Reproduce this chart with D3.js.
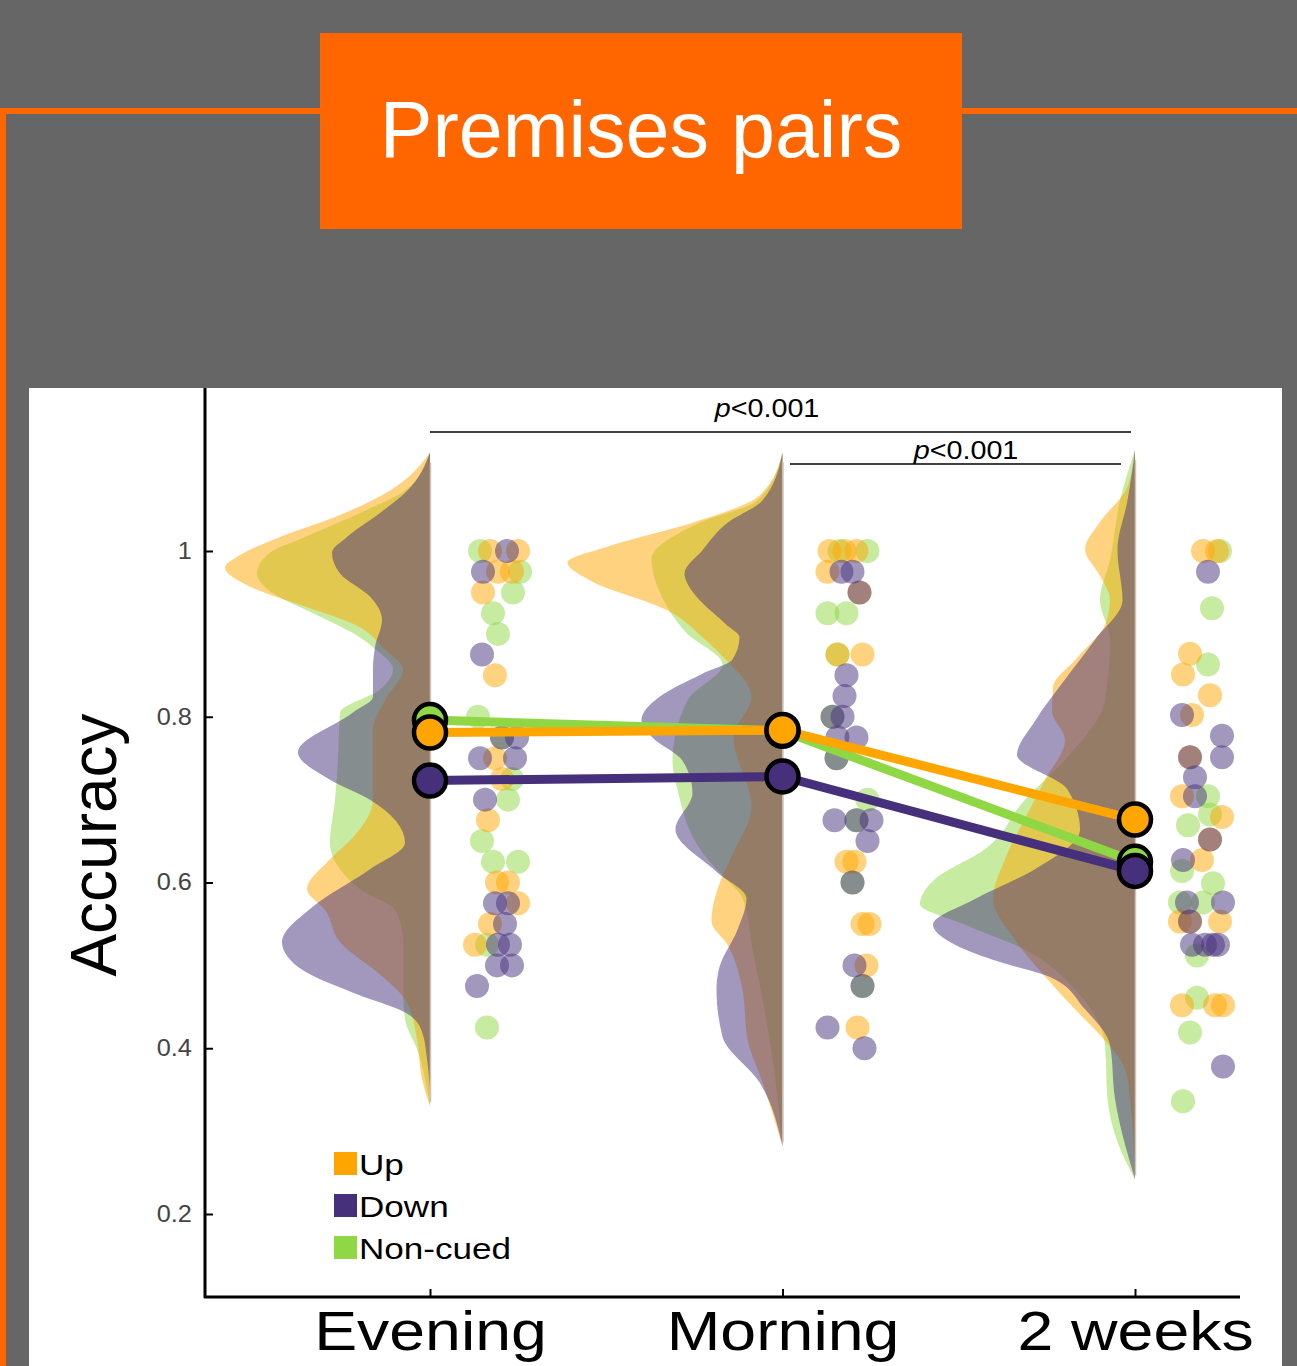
<!DOCTYPE html>
<html>
<head>
<meta charset="utf-8">
<script src="https://cdn.jsdelivr.net/npm/d3@7"></script>
<style>
  html, body { margin: 0; padding: 0; background: #666666; }
  svg { display: block; }
</style>
</head>
<body>
<svg id="chart" width="1297" height="1366"></svg>
<script>
// ---------- data ----------
const sessions = ["Evening", "Morning", "2 weeks"];
const groups = ["Up", "Down", "Non-cued"];
const groupColors = ["#FFA500", "#46307C", "#8FD744"];
const yTicks = [0.2, 0.4, 0.6, 0.8, 1];

// group means per session
const meanUp = [0.781, 0.784, 0.676];
const meanDown = [0.723, 0.728, 0.614];
const meanNonCued = [0.796, 0.783, 0.625];

// significance brackets: [fromSession, toSession, label]
const comparisons = [[0, 2, "p<0.001"], [1, 2, "p<0.001"]];

// smoothed densities per session: [accuracy, density]
const densityUp = [
  [[1.119,0],[1.073,0.80],[1.041,1.90],[1.017,3.00],[0.993,3.86],[0.980,4.10],[0.957,3.60],[0.935,2.60],[0.911,1.50],[0.881,0.90],[0.857,0.54],[0.820,0.90],[0.784,1.14],[0.700,1.14],[0.657,1.50],[0.628,2.00],[0.592,2.46],[0.567,2.10],[0.528,1.80],[0.489,1.00],[0.459,0.50],[0.411,0.26],[0.363,0.16],[0.330,0]],
  [[1.119,0],[1.067,0.46],[1.034,1.80],[1.006,3.46],[0.986,4.30],[0.963,3.80],[0.929,2.32],[0.896,1.60],[0.873,1.20],[0.824,0.62],[0.775,0.98],[0.692,0.62],[0.636,0.98],[0.608,1.20],[0.553,1.42],[0.525,1.10],[0.471,0.80],[0.411,0.70],[0.359,0.40],[0.282,0]],
  [[1.122,0],[1.076,0.16],[1.035,0.70],[1.002,1.00],[0.970,0.70],[0.941,0.50],[0.911,0.60],[0.871,1.16],[0.836,1.64],[0.807,1.66],[0.772,1.40],[0.724,1.80],[0.682,2.16],[0.628,2.60],[0.580,2.84],[0.531,2.40],[0.480,1.70],[0.447,1.20],[0.416,0.70],[0.375,0.20],[0.339,0.10],[0.242,0]]
];
const densityDown = [
  [[1.119,0],[1.073,0.45],[1.046,1.00],[1.017,1.66],[0.998,1.96],[0.973,1.80],[0.945,1.20],[0.917,0.96],[0.884,1.10],[0.857,1.14],[0.824,1.14],[0.805,1.54],[0.757,2.64],[0.724,2.00],[0.700,1.20],[0.648,0.50],[0.616,1.20],[0.571,2.34],[0.528,2.96],[0.494,2.54],[0.467,1.54],[0.442,0.46],[0.420,0.16],[0.387,0.06],[0.351,0]],
  [[1.119,0],[1.061,0.40],[1.034,1.10],[1.001,1.60],[0.973,1.96],[0.951,1.80],[0.912,1.14],[0.896,0.86],[0.869,1.00],[0.852,1.60],[0.824,2.46],[0.796,2.82],[0.775,2.60],[0.747,2.00],[0.708,1.80],[0.664,2.14],[0.613,1.32],[0.581,0.72],[0.543,0.90],[0.498,1.26],[0.471,1.32],[0.414,1.20],[0.359,0.46],[0.282,0]],
  [[1.122,0],[1.061,0.15],[1.001,0.35],[0.941,0.25],[0.893,0.80],[0.845,1.40],[0.795,2.00],[0.754,2.36],[0.713,1.36],[0.664,1.10],[0.616,2.00],[0.580,3.20],[0.549,4.04],[0.525,3.60],[0.504,2.70],[0.486,1.70],[0.447,1.00],[0.404,0.50],[0.339,0.40],[0.242,0]]
];
const densityNonCued = [
  [[1.119,0],[1.073,0.50],[1.046,1.40],[1.017,2.50],[0.998,3.20],[0.973,3.46],[0.949,3.14],[0.925,2.34],[0.901,1.54],[0.884,1.14],[0.857,0.74],[0.833,1.00],[0.805,1.80],[0.748,1.84],[0.700,1.90],[0.648,2.00],[0.616,1.80],[0.592,1.40],[0.567,0.70],[0.531,0.54],[0.471,0.54],[0.435,0.50],[0.399,0.26],[0.330,0]],
  [[1.119,0],[1.061,0.50],[1.034,1.66],[0.990,2.62],[0.951,2.46],[0.901,1.92],[0.863,1.20],[0.820,1.90],[0.747,2.20],[0.712,2.10],[0.636,1.60],[0.608,1.20],[0.581,0.80],[0.519,0.60],[0.459,0.40],[0.387,0.20],[0.282,0]],
  [[1.122,0],[1.061,0.30],[0.989,0.50],[0.941,0.70],[0.893,0.50],[0.820,0.60],[0.748,1.40],[0.700,2.20],[0.640,3.00],[0.604,4.00],[0.574,4.30],[0.549,3.40],[0.519,2.20],[0.471,1.20],[0.404,0.60],[0.339,0.55],[0.287,0.35],[0.242,0]]
];

// individual participants: [session, accuracy, jitter]
const pointsUp = [
  [0,1.0,-0.2],[0,1.0,0.92],[0,0.975,0.12],[0,0.975,0.68],[0,0.95,-0.48],[0,0.85,0],[0,0.75,0],[0,0.725,0.28],
  [0,0.675,-0.28],[0,0.6,0.08],[0,0.6,0.52],[0,0.575,0.92],[0,0.55,-0.2],[0,0.525,-0.8],
  [1,1.0,-0.72],[1,1.0,-0.12],[1,1.0,0.36],[1,0.975,-0.8],[1,0.95,0.48],[1,0.875,-0.4],[1,0.875,0.6],
  [1,0.625,-0.04],[1,0.625,0.28],[1,0.55,0.6],[1,0.55,0.88],[1,0.5,0.76],[1,0.425,0.4],
  [2,1.0,0.12],[2,1.0,0.68],[2,0.876,-0.4],[2,0.851,-0.68],[2,0.826,0.4],[2,0.802,-0.32],[2,0.751,-0.4],
  [2,0.704,-0.72],[2,0.679,0.88],[2,0.652,0.4],[2,0.627,0.08],[2,0.553,-0.8],[2,0.553,-0.4],[2,0.553,0.8],
  [2,0.452,-0.72],[2,0.452,0.6],[2,0.452,0.92]
];
const pointsDown = [
  [0,1.0,0.48],[0,0.975,-0.48],[0,0.875,-0.52],[0,0.775,0.28],[0,0.775,0.88],[0,0.75,-0.6],[0,0.75,0.8],
  [0,0.7,-0.4],[0,0.575,0],[0,0.575,0.52],[0,0.55,0.4],[0,0.525,0.12],[0,0.525,0.6],[0,0.5,0.08],[0,0.5,0.68],[0,0.475,-0.72],
  [1,0.975,-0.24],[1,0.975,0.2],[1,0.95,0.48],[1,0.85,-0.04],[1,0.825,-0.12],[1,0.8,-0.6],[1,0.8,-0.2],
  [1,0.775,-0.4],[1,0.775,0.36],[1,0.75,-0.44],[1,0.675,-0.52],[1,0.675,0.36],[1,0.675,0.96],[1,0.65,0.8],
  [1,0.6,0.2],[1,0.5,0.28],[1,0.475,0.6],[1,0.425,-0.8],[1,0.4,0.68],
  [2,0.975,0.32],[2,0.802,-0.72],[2,0.777,0.88],[2,0.751,-0.4],[2,0.751,0.88],[2,0.727,-0.2],[2,0.704,-0.2],
  [2,0.652,0.4],[2,0.627,-0.68],[2,0.576,-0.52],[2,0.576,0.92],[2,0.553,-0.4],[2,0.525,-0.32],[2,0.525,0.2],
  [2,0.525,0.52],[2,0.525,0.72],[2,0.378,0.92]
];
const pointsNonCued = [
  [0,1.0,-0.6],[0,0.975,1.0],[0,0.95,0.72],[0,0.925,-0.08],[0,0.9,0.12],[0,0.8,-0.68],[0,0.775,0.28],
  [0,0.725,0.68],[0,0.7,0.52],[0,0.65,-0.52],[0,0.625,-0.08],[0,0.625,0.92],[0,0.525,-0.32],[0,0.425,-0.32],
  [1,1.0,0.8],[1,1.0,-0.32],[1,0.925,-0.8],[1,0.925,-0.04],[1,0.875,-0.4],[1,0.8,-0.6],[1,0.75,-0.44],
  [1,0.7,0.8],[1,0.675,0.36],[1,0.6,0.2],[1,0.475,0.6],
  [2,1.0,0.8],[2,0.931,0.48],[2,0.863,0.32],[2,0.704,0.32],[2,0.682,0.4],[2,0.669,-0.48],[2,0.614,-0.72],
  [2,0.599,0.52],[2,0.576,0.12],[2,0.576,-0.8],[2,0.512,-0.12],[2,0.461,-0.12],[2,0.419,-0.4],[2,0.336,-0.68]
];

// ---------- layout ----------
const svg = d3.select("#chart");
const FONT = "'Liberation Sans', Arial, Helvetica, sans-serif";

// slide frame
svg.append("rect").attr("width", 1297).attr("height", 1366).attr("fill", "#666666");
svg.append("rect").attr("x", 0).attr("y", 108).attr("width", 1297).attr("height", 6).attr("fill", "#FF6600");
svg.append("rect").attr("x", 0).attr("y", 108).attr("width", 6).attr("height", 1258).attr("fill", "#FF6600");
svg.append("rect").attr("x", 320).attr("y", 33).attr("width", 642).attr("height", 196).attr("fill", "#FF6600");
svg.append("text").attr("x", 641).attr("y", 157).attr("text-anchor", "middle")
  .attr("font-family", FONT).attr("font-size", 79).attr("fill", "#ffffff")
  .text("Premises pairs");

// white figure panel
svg.append("rect").attr("x", 29).attr("y", 388).attr("width", 1253).attr("height", 978).attr("fill", "#ffffff");

const plot = svg.append("g");

const x = d3.scalePoint().domain(sessions).range([430, 1135]);
const y = d3.scaleLinear().domain([0.2, 1]).range([1214, 551]);
const dens = d3.scaleLinear().domain([0, 1]).range([0, 50]);
const jitter = d3.scaleLinear().domain([-1, 1]).range([-25, 25]);
const dotOffset = 65;

const densities = [densityUp, densityDown, densityNonCued];
const points = [pointsUp, pointsDown, pointsNonCued];
const means = [meanUp, meanDown, meanNonCued];
const drawOrder = [2, 0, 1]; // Non-cued, Up, Down

// half violins, flat side on each session position
sessions.forEach((s, si) => {
  const cx = x(s);
  const area = d3.area()
    .y(d => y(d[0]))
    .x0(cx)
    .x1(d => cx - dens(d[1]))
    .curve(d3.curveMonotoneY);
  drawOrder.forEach(gi => {
    plot.append("path")
      .datum(densities[gi][si])
      .attr("d", area)
      .attr("fill", groupColors[gi])
      .attr("fill-opacity", 0.5);
  });
  // faint seam along the flat edge
  const ext = d3.extent(densities.flatMap(g => g[si].map(d => d[0])));
  plot.append("line")
    .attr("x1", cx + 0.5).attr("x2", cx + 0.5)
    .attr("y1", y(ext[1]) + 10).attr("y2", y(ext[0]) - 4)
    .attr("stroke", "#cdc3b8").attr("stroke-width", 1.5);
});

// participant dots
drawOrder.forEach(gi => {
  plot.append("g").selectAll("circle")
    .data(points[gi])
    .join("circle")
    .attr("cx", d => x(sessions[d[0]]) + dotOffset + jitter(d[2]))
    .attr("cy", d => y(d[1]))
    .attr("r", 12)
    .attr("fill", groupColors[gi])
    .attr("fill-opacity", 0.5);
});

// axes
const yAxis = d3.axisLeft(y).tickValues(yTicks)
  .tickSizeInner(-8).tickSizeOuter(0).tickPadding(12)
  .tickFormat(d => d === 1 ? "1" : d3.format(".1f")(d));
const gy = plot.append("g").attr("transform", "translate(205,0)").call(yAxis);
gy.select(".domain").remove();
gy.selectAll(".tick line").attr("stroke", "#000").attr("stroke-width", 2);
gy.selectAll(".tick text").attr("font-family", FONT).attr("font-size", 23)
  .attr("fill", "#444").attr("transform", "scale(1.1,1)");

const xAxis = d3.axisBottom(x).tickSizeInner(-8).tickSizeOuter(0).tickPadding(13);
const gx = plot.append("g").attr("transform", "translate(0,1297)").call(xAxis);
gx.select(".domain").remove();
gx.selectAll(".tick line").attr("stroke", "#000").attr("stroke-width", 2);
gx.selectAll(".tick text").attr("font-family", FONT).attr("font-size", 56)
  .attr("fill", "#000").attr("transform", "scale(1.15,1)");

plot.append("line").attr("x1", 205).attr("x2", 205).attr("y1", 388).attr("y2", 1298)
  .attr("stroke", "#000").attr("stroke-width", 3);
plot.append("line").attr("x1", 204).attr("x2", 1240).attr("y1", 1297).attr("y2", 1297)
  .attr("stroke", "#000").attr("stroke-width", 3);

// y axis title
plot.append("text")
  .attr("transform", "translate(116,845) rotate(-90)")
  .attr("text-anchor", "middle")
  .attr("font-family", FONT).attr("font-size", 64).attr("fill", "#000")
  .text("Accuracy");

// mean trajectories
const meanLine = d3.line().x((d, i) => x(sessions[i])).y(d => y(d));
drawOrder.forEach(gi => {
  plot.append("path").datum(means[gi]).attr("d", meanLine)
    .attr("fill", "none").attr("stroke", groupColors[gi]).attr("stroke-width", 9);
});
drawOrder.forEach(gi => {
  plot.append("g").selectAll("circle")
    .data(means[gi])
    .join("circle")
    .attr("cx", (d, i) => x(sessions[i]))
    .attr("cy", d => y(d))
    .attr("r", 16)
    .attr("fill", groupColors[gi])
    .attr("stroke", "#000")
    .attr("stroke-width", 4.5);
});

// significance brackets
const bracketY = [432, 464];
const bracketEnd = [1131, 1121];
const bracketStart = [430, 790];
comparisons.forEach((c, i) => {
  plot.append("line")
    .attr("x1", bracketStart[i]).attr("x2", bracketEnd[i])
    .attr("y1", bracketY[i]).attr("y2", bracketY[i])
    .attr("stroke", "#000").attr("stroke-width", 1.5);
  const cx = i === 0 ? 767 : 966;
  const t = plot.append("text")
    .attr("transform", `translate(${cx},${bracketY[i] - (i === 0 ? 15 : 5)}) scale(1.15,1)`)
    .attr("text-anchor", "middle")
    .attr("font-family", FONT).attr("font-size", 25).attr("fill", "#000");
  t.append("tspan").attr("font-style", "italic").text(c[2].slice(0, 1));
  t.append("tspan").text(c[2].slice(1));
});

// legend
const legend = plot.append("g").attr("transform", "translate(334,1152)");
groups.forEach((g, i) => {
  const row = legend.append("g").attr("transform", `translate(0,${i * 42})`);
  row.append("rect").attr("width", 23).attr("height", 23).attr("fill", groupColors[i]);
  row.append("text").attr("transform", "translate(25,23) scale(1.17,1)")
    .attr("font-family", FONT).attr("font-size", 30).attr("fill", "#000")
    .text(g);
});
</script>
</body>
</html>
